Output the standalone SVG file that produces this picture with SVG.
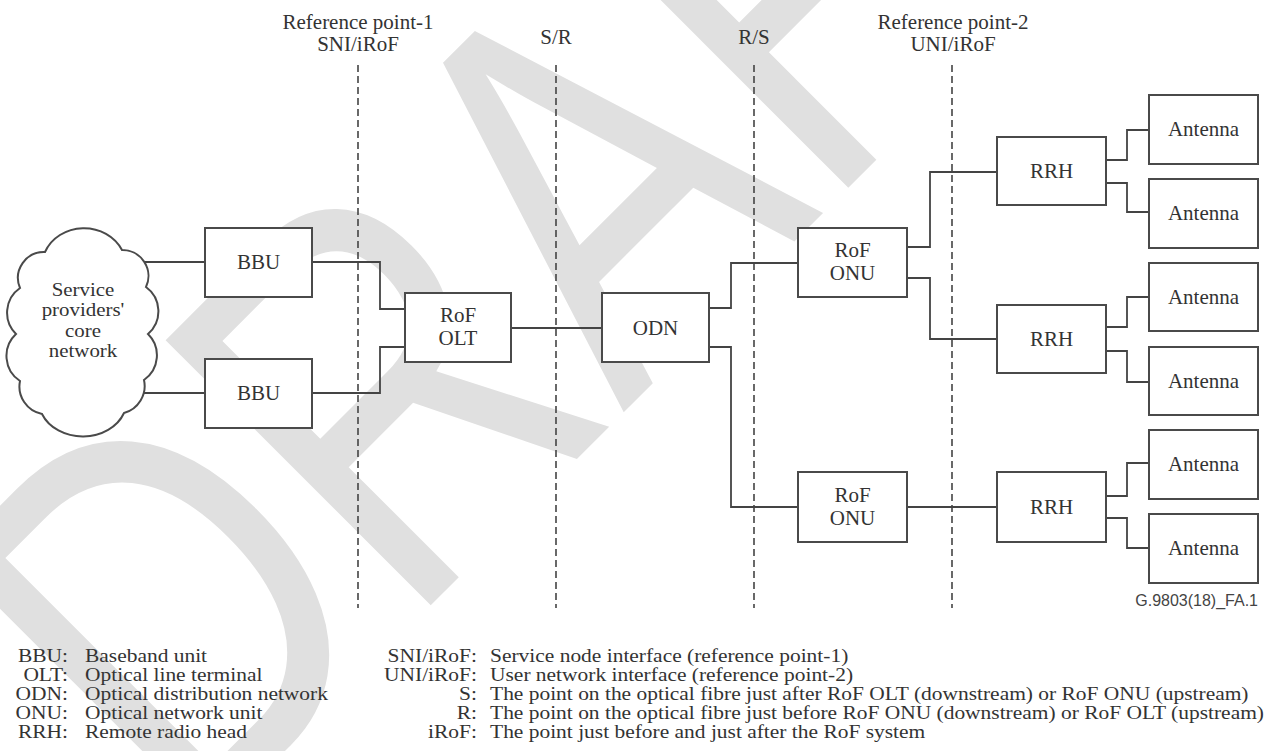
<svg xmlns="http://www.w3.org/2000/svg" width="1282" height="751" viewBox="0 0 1282 751">
<style>
  .wm { font-family: "Liberation Sans", Arial, sans-serif; font-size: 545px; fill: #e0e0e0; }
  .box { fill: #ffffff; stroke: #4a4a4a; stroke-width: 2; }
  .lbl { font-family: "Liberation Serif", "Times New Roman", serif; font-size: 21px; fill: #333333; text-anchor: middle; }
  .cl { font-family: "Liberation Serif", "Times New Roman", serif; font-size: 19px; fill: #333333; text-anchor: middle; }
  .con { fill: none; stroke: #444444; stroke-width: 1.8; }
  .dash { fill: none; stroke: #444444; stroke-width: 1.6; stroke-dasharray: 7 4; }
  .leg { font-family: "Liberation Serif", "Times New Roman", serif; font-size: 19.5px; fill: #333333; }
  .legk { text-anchor: end; }
  .fig { font-family: "Liberation Sans", Arial, sans-serif; font-size: 16px; fill: #444444; text-anchor: end; }
</style>

<g id="watermark">
  <text class="wm" transform="translate(189 847) rotate(-45) scale(0.78 1)">DRAFT</text>
</g>

<g id="reference-lines">
  <line class="dash" x1="358" y1="65" x2="358" y2="608"/>
  <line class="dash" x1="556" y1="65" x2="556" y2="608"/>
  <line class="dash" x1="754" y1="65" x2="754" y2="608"/>
  <line class="dash" x1="952" y1="65" x2="952" y2="608"/>
  <text class="lbl" x="358" y="29">Reference point-1</text>
  <text class="lbl" x="358" y="51">SNI/iRoF</text>
  <text class="lbl" x="556" y="44">S/R</text>
  <text class="lbl" x="754" y="44">R/S</text>
  <text class="lbl" x="953" y="29">Reference point-2</text>
  <text class="lbl" x="953" y="51">UNI/iRoF</text>
</g>

<g id="connectors">
  <path class="con" d="M120 262 H205"/>
  <path class="con" d="M120 393 H205"/>
  <path class="con" d="M312 262 H380 V309 H405"/>
  <path class="con" d="M312 393 H380 V347 H405"/>
  <path class="con" d="M511 328 H602"/>
  <path class="con" d="M709 308 H731 V263 H798"/>
  <path class="con" d="M709 347 H731 V507 H798"/>
  <path class="con" d="M907 247 H930 V172 H997"/>
  <path class="con" d="M907 278 H930 V339 H997"/>
  <path class="con" d="M907 507 H997"/>
  <path class="con" d="M1106 160 H1127 V130 H1149"/>
  <path class="con" d="M1106 183 H1127 V212 H1149"/>
  <path class="con" d="M1106 327 H1127 V297 H1149"/>
  <path class="con" d="M1106 351 H1127 V382 H1149"/>
  <path class="con" d="M1106 496 H1127 V463 H1149"/>
  <path class="con" d="M1106 518 H1127 V548 H1149"/>
</g>

<g id="core-network">
  <path class="box" stroke-width="1.6" d="M45 252 A42 38 0 0 1 122 250 A26 26 0 0 1 146 287 A30 30 0 0 1 148 334 A30 30 0 0 1 144 380 A28 28 0 0 1 124 413 A44 36 0 0 1 42 414 A28 28 0 0 1 20 381 A30 30 0 0 1 16 334 A30 30 0 0 1 20 288 A26 26 0 0 1 45 252 Z"/>
  <g transform="translate(83 0) scale(1.1 1)">
    <text class="cl" x="0" y="296">Service</text>
    <text class="cl" x="0" y="316.5">providers'</text>
    <text class="cl" x="0" y="337">core</text>
    <text class="cl" x="0" y="357.5">network</text>
  </g>
</g>

<g id="bbu-1"><rect class="box" x="205" y="228" width="107" height="69"/><text class="lbl" x="258.5" y="269">BBU</text></g>
<g id="bbu-2"><rect class="box" x="205" y="359" width="107" height="69"/><text class="lbl" x="258.5" y="400">BBU</text></g>
<g id="rof-olt"><rect class="box" x="405" y="293" width="106" height="69"/><text class="lbl" x="458" y="322">RoF</text><text class="lbl" x="458" y="345">OLT</text></g>
<g id="odn"><rect class="box" x="602" y="293" width="107" height="69"/><text class="lbl" x="655.5" y="335">ODN</text></g>
<g id="rof-onu-1"><rect class="box" x="798" y="228" width="109" height="69"/><text class="lbl" x="852.5" y="257">RoF</text><text class="lbl" x="852.5" y="280">ONU</text></g>
<g id="rof-onu-2"><rect class="box" x="798" y="472" width="109" height="70"/><text class="lbl" x="852.5" y="502">RoF</text><text class="lbl" x="852.5" y="525">ONU</text></g>
<g id="rrh-1"><rect class="box" x="997" y="137" width="109" height="68"/><text class="lbl" x="1051.5" y="178">RRH</text></g>
<g id="rrh-2"><rect class="box" x="997" y="305" width="109" height="68"/><text class="lbl" x="1051.5" y="346">RRH</text></g>
<g id="rrh-3"><rect class="box" x="997" y="472" width="109" height="70"/><text class="lbl" x="1051.5" y="514">RRH</text></g>
<g id="antenna-1"><rect class="box" x="1149" y="95" width="109" height="69"/><text class="lbl" x="1203.5" y="136">Antenna</text></g>
<g id="antenna-2"><rect class="box" x="1149" y="179" width="109" height="69"/><text class="lbl" x="1203.5" y="220">Antenna</text></g>
<g id="antenna-3"><rect class="box" x="1149" y="263" width="109" height="68"/><text class="lbl" x="1203.5" y="304">Antenna</text></g>
<g id="antenna-4"><rect class="box" x="1149" y="347" width="109" height="68"/><text class="lbl" x="1203.5" y="388">Antenna</text></g>
<g id="antenna-5"><rect class="box" x="1149" y="430" width="109" height="69"/><text class="lbl" x="1203.5" y="471">Antenna</text></g>
<g id="antenna-6"><rect class="box" x="1149" y="514" width="109" height="69"/><text class="lbl" x="1203.5" y="555">Antenna</text></g>

<g id="figure-id"><text class="fig" x="1258" y="606">G.9803(18)_FA.1</text></g>

<g id="legend-left" class="leg" transform="scale(1.1 1)">
  <text class="legk" x="61.8" y="662">BBU:</text><text x="77.3" y="662">Baseband unit</text>
  <text class="legk" x="61.8" y="681">OLT:</text><text x="77.3" y="681">Optical line terminal</text>
  <text class="legk" x="61.8" y="700">ODN:</text><text x="77.3" y="700">Optical distribution network</text>
  <text class="legk" x="61.8" y="719">ONU:</text><text x="77.3" y="719">Optical network unit</text>
  <text class="legk" x="61.8" y="738">RRH:</text><text x="77.3" y="738">Remote radio head</text>
</g>
<g id="legend-right" class="leg" transform="scale(1.1 1)">
  <text class="legk" x="433.6" y="662">SNI/iRoF:</text><text x="445.5" y="662">Service node interface (reference point-1)</text>
  <text class="legk" x="433.6" y="681">UNI/iRoF:</text><text x="445.5" y="681">User network interface (reference point-2)</text>
  <text class="legk" x="433.6" y="700">S:</text><text x="445.5" y="700">The point on the optical fibre just after RoF OLT (downstream) or RoF ONU (upstream)</text>
  <text class="legk" x="433.6" y="719">R:</text><text x="445.5" y="719">The point on the optical fibre just before RoF ONU (downstream) or RoF OLT (upstream)</text>
  <text class="legk" x="433.6" y="738">iRoF:</text><text x="445.5" y="738">The point just before and just after the RoF system</text>
</g>
</svg>
